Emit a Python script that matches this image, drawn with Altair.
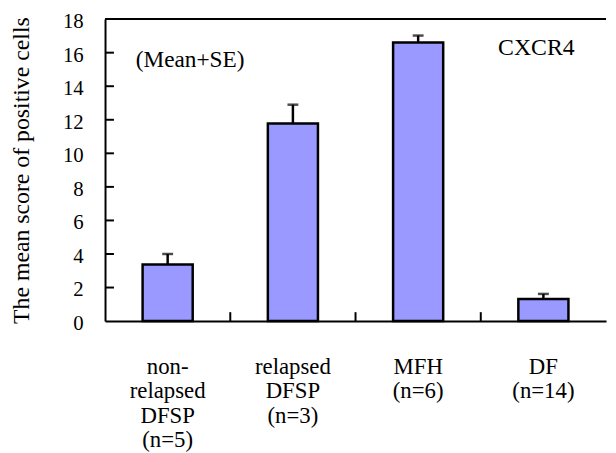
import altair as alt
import pandas as pd

categories = ["non-|relapsed|DFSP|(n=5)", "relapsed|DFSP|(n=3)", "MFH|(n=6)", "DF|(n=14)"]
means = [3.38, 11.78, 16.6, 1.32]
se = [0.62, 1.12, 0.42, 0.3]
y_ticks = [0, 2, 4, 6, 8, 10, 12, 14, 16, 18]

df = pd.DataFrame({"cat": categories, "mean": means,
                   "upper": [m + s for m, s in zip(means, se)]})
ytick_df = pd.DataFrame({"v": y_ticks[1:-1]})
xtick_df = pd.DataFrame({"cat": categories[1:]})
one = pd.DataFrame({"k": [0]})

W, H = 506, 305
FONT = "Liberation Serif"
YTITLE = "The mean score of positive cells"

xscale = alt.Scale(domain=categories, paddingInner=0, paddingOuter=0)
yscale = alt.Scale(domain=[0, 18], nice=False)

xaxis = alt.Axis(labelExpr="split(datum.value, '|')", labelAngle=0,
                 ticks=False, labelPadding=46, labelLineHeight=24.5,
                 labelBaseline="middle", labelFont=FONT, labelFontSize=23,
                 labelColor="black", domainColor="black", domainWidth=2)
yaxis = alt.Axis(values=y_ticks, ticks=False, labelPadding=22, labelOffset=2.5,
                 labelOverlap=False, labelFlush=False, grid=False,
                 titlePadding=29, labelFont=FONT, labelFontSize=21,
                 labelColor="black", titleFont=FONT, titleFontSize=24,
                 titleFontWeight="normal", titleColor="black",
                 domainColor="black", domainWidth=2)


def X(field="cat:N", **kw):
    return alt.X(field, scale=xscale, sort=categories, title=None, axis=xaxis, **kw)


def Y(field):
    return alt.Y(field, scale=yscale, title=YTITLE, axis=yaxis)


bars = alt.Chart(df).mark_bar(fill="#9999FF", stroke="black", strokeWidth=2.5,
                              width=alt.RelativeBandSize(0.4)).encode(x=X(), y=Y("mean:Q"))

err = alt.Chart(df).mark_rule(color="black", strokeWidth=2.5).encode(
    x=X(), y=Y("mean:Q"), y2="upper:Q")

caps = alt.Chart(df).mark_tick(color="black", thickness=2.5, size=11).encode(
    x=X(), y=Y("upper:Q"))

yticks = alt.Chart(ytick_df).mark_rule(color="black", strokeWidth=2).encode(
    y=Y("v:Q"), x=alt.value(0), x2=alt.value(9))

xticks = alt.Chart(xtick_df).mark_rule(color="black", strokeWidth=2).encode(
    x=X(bandPosition=0), y=alt.value(H), y2=alt.value(H - 9))

top = alt.Chart(one).mark_rule(color="black", strokeWidth=2).encode(
    x=alt.value(0), x2=alt.value(W), y=alt.value(0))

t1 = alt.Chart(one).mark_text(text="(Mean+SE)", font=FONT, fontSize=23.5, fontWeight="normal",
                              align="left", baseline="middle", color="black").encode(
    x=alt.value(31), y=alt.value(41))
t2 = alt.Chart(one).mark_text(text="CXCR4", font=FONT, fontSize=24, fontWeight="normal",
                              align="left", baseline="middle", color="black").encode(
    x=alt.value(397), y=alt.value(29))

chart = alt.layer(bars, err, caps, yticks, xticks, top, t1, t2).properties(
    width=W, height=H,
    autosize=alt.AutoSizeParams(type="none"),
    padding={"left": 98, "top": 9, "right": 2, "bottom": 131}
).configure_view(stroke=None)

chart.save("out.html", embed_options={"renderer": "svg", "actions": False})
